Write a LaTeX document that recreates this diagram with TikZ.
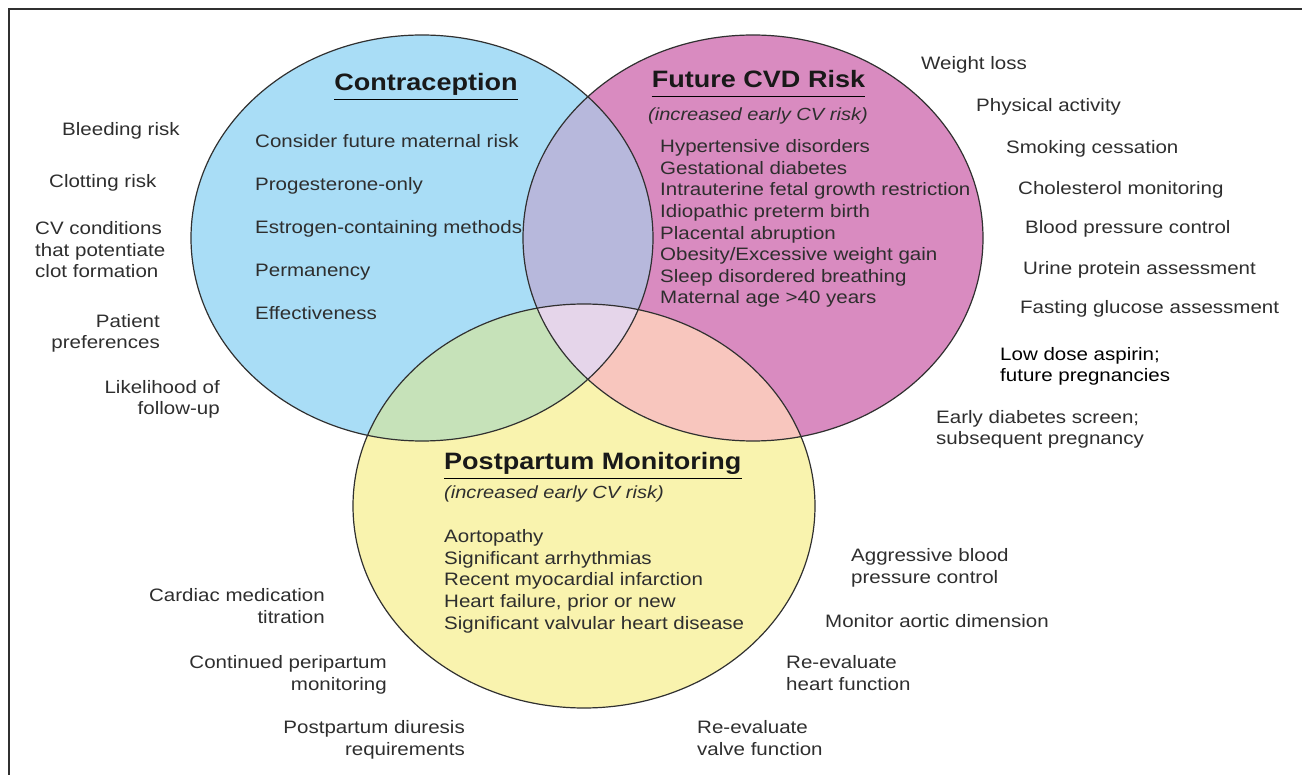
\documentclass[tikz,border=0pt]{standalone}
\usepackage{fontspec}
\setmainfont{Liberation Sans}[FakeStretch=1.14]
\definecolor{contrablue}{HTML}{A9DDF6}
\definecolor{cvdpink}{HTML}{D98BC0}
\definecolor{postyellow}{HTML}{F9F3AE}
\definecolor{bluepink}{HTML}{B7B8DC}
\definecolor{blueyellow}{HTML}{C6E2B9}
\definecolor{pinkyellow}{HTML}{F8C6BE}
\definecolor{allthree}{HTML}{E5D5EA}
\definecolor{textgray}{HTML}{2E2E2E}
\definecolor{linegray}{HTML}{303030}
\newcommand{\contraset}{(422,238) ellipse [x radius=231, y radius=203]}
\newcommand{\cvdset}{(753,238) ellipse [x radius=230, y radius=203]}
\newcommand{\postset}{(584,506) ellipse [x radius=231, y radius=202]}
\begin{document}
\begin{tikzpicture}[x=1pt,y=-1pt,
    txt/.style={inner sep=0pt,text=textgray,font=\fontsize{18}{21.6}\selectfont},
    head/.style={inner sep=0pt,text=black!90,font=\fontsize{23.7}{28}\selectfont\bfseries},
    sub/.style={inner sep=0pt,text=textgray,font=\fontsize{17.6}{21}\selectfont\itshape}]
    \useasboundingbox (0,0) rectangle (1302,775);
    % sets
    \fill[contrablue] \contraset;
    \fill[cvdpink] \cvdset;
    \fill[postyellow] \postset;
    \begin{scope}
        \clip \contraset;
        \fill[bluepink] \cvdset;
        \fill[blueyellow] \postset;
    \end{scope}
    \begin{scope}
        \clip \cvdset;
        \fill[pinkyellow] \postset;
        \clip \postset;
        \fill[allthree] \contraset;
    \end{scope}
    \draw[linegray,line width=1.2] \contraset \cvdset \postset;
    % frame
    \draw[linegray,line width=2.5] (9,775) -- (9,9) -- (1302,9);
    % titles
    \node[head,anchor=base](contra) at (426,91) {Contraception};
    \node[head,anchor=base](cvd) at (758.5,88) {Future CVD Risk};
    \node[head,anchor=base west](post) at (444,470) {Postpartum Monitoring};
    \draw[line width=1.8] ([yshift=-8.5pt]contra.base west) -- ([yshift=-8.5pt]contra.base east);
    \draw[line width=1.8] ([yshift=-8.5pt]cvd.base west) -- ([yshift=-8.5pt]cvd.base east);
    \draw[line width=1.8] ([yshift=-8.5pt]post.base west) -- ([yshift=-8.5pt]post.base east);
    \node[sub,anchor=base](cvdsub) at (758,121) {(increased early CV risk)};
    \node[sub,anchor=base west](postsub) at (444,499) {(increased early CV risk)};
    % contraception items
    \node[txt,anchor=base west](c1) at (255,148) {Consider future maternal risk};
    \node[txt,anchor=base west](c2) at (255,191) {Progesterone-only};
    \node[txt,anchor=base west](c3) at (255,234) {Estrogen-containing methods};
    \node[txt,anchor=base west](c4) at (255,277) {Permanency};
    \node[txt,anchor=base west](c5) at (255,320) {Effectiveness};
    % cvd items (base = last line)
    \node[txt,anchor=base west,align=left](cvdlist) at (660,304)
        {Hypertensive disorders\\Gestational diabetes\\Intrauterine fetal growth restriction\\Idiopathic preterm birth\\Placental abruption\\Obesity/Excessive weight gain\\Sleep disordered breathing\\Maternal age >40 years};
    % postpartum items
    \node[txt,anchor=base west,align=left](postlist) at (444,629)
        {Aortopathy\\Significant arrhythmias\\Recent myocardial infarction\\Heart failure, prior or new\\Significant valvular heart disease};
    % left side
    \node[txt,anchor=base west](bleed) at (62,136) {Bleeding risk};
    \node[txt,anchor=base west](clot) at (49,188) {Clotting risk};
    \node[txt,anchor=base west,align=left](cvcond) at (35,278) {CV conditions\\that potentiate\\clot formation};
    \node[txt,anchor=base east,align=right](pref) at (160,349) {Patient\\preferences};
    \node[txt,anchor=base east,align=right](follow) at (220,415) {Likelihood of\\follow-up};
    % right side
    \node[txt,anchor=base west](wloss) at (921,70) {Weight loss};
    \node[txt,anchor=base west](activity) at (976,112) {Physical activity};
    \node[txt,anchor=base west](smoke) at (1006,154) {Smoking cessation};
    \node[txt,anchor=base west](chol) at (1018,195) {Cholesterol monitoring};
    \node[txt,anchor=base west](bp) at (1025,234) {Blood pressure control};
    \node[txt,anchor=base west](urine) at (1023,275) {Urine protein assessment};
    \node[txt,anchor=base west](glucose) at (1020,314) {Fasting glucose assessment};
    \node[txt,anchor=base west,align=left,text=black](aspirin) at (1000,382) {Low dose aspirin;\\future pregnancies};
    \node[txt,anchor=base west,align=left](screen) at (936,445) {Early diabetes screen;\\subsequent pregnancy};
    % bottom right
    \node[txt,anchor=base west,align=left](aggr) at (851,583) {Aggressive blood\\pressure control};
    \node[txt,anchor=base west](aortic) at (825,627) {Monitor aortic dimension};
    \node[txt,anchor=base west,align=left](heart) at (786,690) {Re-evaluate\\heart function};
    \node[txt,anchor=base west,align=left](valve) at (697,755) {Re-evaluate\\valve function};
    % bottom left
    \node[txt,anchor=base east,align=right](cardiac) at (325,623) {Cardiac medication\\titration};
    \node[txt,anchor=base east,align=right](peri) at (387,690) {Continued peripartum\\monitoring};
    \node[txt,anchor=base east,align=right](diur) at (465,755) {Postpartum diuresis\\requirements};
\end{tikzpicture}
\end{document}
